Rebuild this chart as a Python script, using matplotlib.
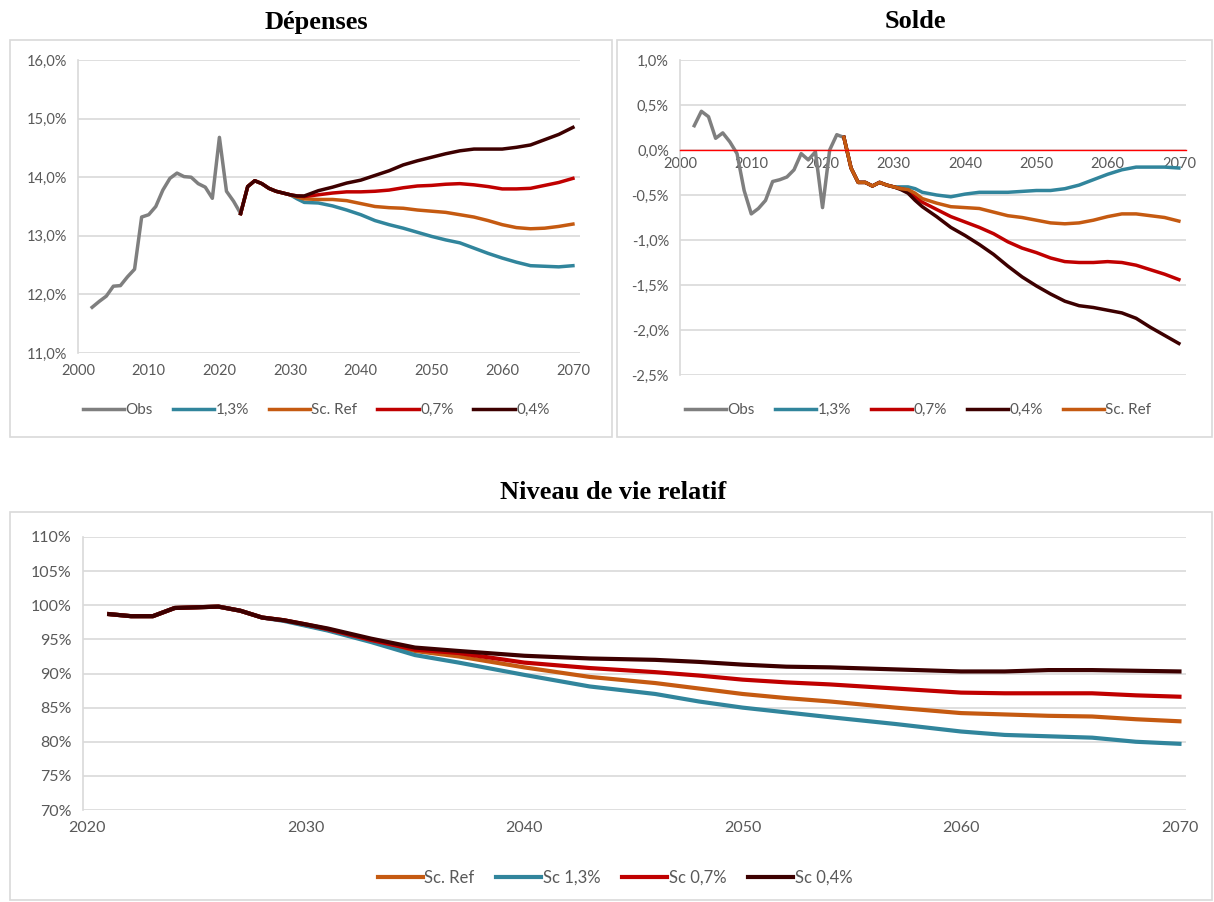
import matplotlib.pyplot as plt
from matplotlib.patches import Rectangle
from matplotlib.ticker import FuncFormatter

# ---- Dépenses (% du PIB)
dep_obs_years = list(range(2002, 2024))
dep_obs = [11.78, 11.88, 11.97, 12.14, 12.15, 12.30, 12.43, 13.32, 13.36, 13.50, 13.78, 13.98,
           14.07, 14.01, 14.00, 13.89, 13.83, 13.64, 14.68, 13.76, 13.59, 13.38]
dep_years = [2023, 2024, 2025, 2026, 2027, 2028, 2029, 2030, 2031, 2032, 2034, 2036, 2038, 2040,
             2042, 2044, 2046, 2048, 2050, 2052, 2054, 2056, 2058, 2060, 2062, 2064, 2066, 2068, 2070]
dep_start = [13.38, 13.84, 13.94, 13.89, 13.81, 13.76, 13.73, 13.70]
dep_13 = dep_start + [13.63, 13.57, 13.56, 13.51, 13.44, 13.36, 13.26, 13.19, 13.13, 13.06, 12.99,
                      12.93, 12.88, 12.79, 12.70, 12.62, 12.55, 12.49, 12.48, 12.47, 12.49]
dep_ref = dep_start + [13.66, 13.63, 13.62, 13.62, 13.60, 13.55, 13.50, 13.48, 13.47, 13.44, 13.42,
                       13.40, 13.36, 13.32, 13.26, 13.19, 13.14, 13.12, 13.13, 13.16, 13.20]
dep_07 = dep_start + [13.68, 13.67, 13.70, 13.73, 13.75, 13.75, 13.76, 13.78, 13.82, 13.85, 13.86,
                      13.88, 13.89, 13.87, 13.84, 13.80, 13.80, 13.81, 13.86, 13.91, 13.98]
dep_04 = dep_start + [13.68, 13.68, 13.77, 13.83, 13.90, 13.95, 14.03, 14.11, 14.21, 14.28, 14.34,
                      14.40, 14.45, 14.48, 14.48, 14.48, 14.51, 14.55, 14.64, 14.73, 14.85]

# ---- Solde (% du PIB)
sol_obs_years = list(range(2002, 2024))
sol_obs = [0.27, 0.43, 0.37, 0.13, 0.19, 0.09, -0.04, -0.45, -0.71, -0.65, -0.56, -0.35,
           -0.33, -0.30, -0.22, -0.04, -0.11, -0.02, -0.64, 0.00, 0.17, 0.14]
sol_years = [2023, 2024, 2025, 2026, 2027, 2028, 2029, 2030, 2031, 2032, 2033, 2034, 2036, 2038,
             2040, 2042, 2044, 2046, 2048, 2050, 2052, 2054, 2056, 2058, 2060, 2062, 2064, 2066,
             2068, 2070]
sol_start = [0.14, -0.20, -0.36, -0.36, -0.40, -0.36, -0.39, -0.41]
sol_13 = sol_start + [-0.41, -0.41, -0.43, -0.47, -0.50, -0.52, -0.49, -0.47, -0.47, -0.47, -0.46,
                      -0.45, -0.45, -0.43, -0.39, -0.33, -0.27, -0.22, -0.19, -0.19, -0.19, -0.20]
sol_07 = sol_start + [-0.43, -0.45, -0.52, -0.58, -0.66, -0.74, -0.80, -0.86, -0.93, -1.02, -1.09,
                      -1.14, -1.20, -1.24, -1.25, -1.25, -1.24, -1.25, -1.28, -1.33, -1.38, -1.44]
sol_04 = sol_start + [-0.44, -0.48, -0.56, -0.63, -0.74, -0.86, -0.95, -1.05, -1.16, -1.29, -1.41,
                      -1.51, -1.60, -1.68, -1.73, -1.75, -1.78, -1.81, -1.87, -1.97, -2.06, -2.15]
sol_ref = sol_start + [-0.43, -0.44, -0.48, -0.54, -0.59, -0.63, -0.64, -0.65, -0.69, -0.73, -0.75,
                       -0.78, -0.81, -0.82, -0.81, -0.78, -0.74, -0.71, -0.71, -0.73, -0.75, -0.79]

# ---- Niveau de vie relatif (%)
nv_years = [2021, 2022, 2023, 2024, 2025, 2026, 2027, 2028, 2029, 2030, 2031, 2033, 2035, 2037,
            2040, 2043, 2046, 2048, 2050, 2052, 2054, 2057, 2060, 2062, 2064, 2066, 2068, 2070]
nv_start = [98.7, 98.4, 98.4, 99.6, 99.7, 99.8, 99.2, 98.2]
nv_ref = nv_start + [97.8, 97.1, 96.4, 94.8, 93.3, 92.5, 90.9, 89.5, 88.6, 87.8, 87.0, 86.4, 85.9,
                     85.0, 84.2, 84.0, 83.8, 83.7, 83.3, 83.0]
nv_13 = nv_start + [97.7, 97.0, 96.3, 94.6, 92.7, 91.6, 89.8, 88.1, 87.0, 85.9, 85.0, 84.3, 83.6,
                    82.6, 81.5, 81.0, 80.8, 80.6, 80.0, 79.7]
nv_07 = nv_start + [97.8, 97.2, 96.5, 94.9, 93.5, 93.0, 91.6, 90.8, 90.2, 89.7, 89.1, 88.7, 88.4,
                    87.8, 87.2, 87.1, 87.1, 87.1, 86.8, 86.6]
nv_04 = nv_start + [97.8, 97.2, 96.6, 95.1, 93.8, 93.3, 92.6, 92.2, 92.0, 91.7, 91.3, 91.0, 90.9,
                    90.6, 90.3, 90.3, 90.5, 90.5, 90.4, 90.3]

GREY = '#7F7F7F'
TEAL = '#31859C'
ORANGE = '#C55A11'
RED = '#C00000'
DARK = '#3D0000'
TXT = '#595959'
GRID = '#D9D9D9'

W, H = 1214, 902
plt.rcParams['font.family'] = ['Lato', 'DejaVu Sans']
fig = plt.figure(figsize=(W / 100, H / 100), dpi=100)


def px_axes(left, top, right, bottom):
    return fig.add_axes([left / W, 1 - bottom / H, (right - left) / W, (bottom - top) / H])


def frame(left, top, right, bottom):
    fig.add_artist(Rectangle((left / W, 1 - bottom / H), (right - left) / W, (bottom - top) / H,
                             transform=fig.transFigure, fill=False, edgecolor=GRID, lw=1.2))


def style(ax, size=10.5):
    ax.grid(axis='y', color=GRID, lw=1.2)
    ax.set_axisbelow(True)
    for s in ['top', 'right', 'bottom']:
        ax.spines[s].set_visible(False)
    ax.spines['left'].set_color(GRID)
    ax.spines['left'].set_linewidth(1.2)
    ax.tick_params(length=0, labelsize=size, labelcolor=TXT, pad=8)


def pct(decimals):
    def f(v, pos):
        s = f'{v:.{decimals}f}%'.replace('.', ',')
        return s.replace('-0,0', '0,0')
    return FuncFormatter(f)


def legend(ax, x, y, size=11):
    h, l = ax.get_legend_handles_labels()
    fig.legend(h, l, loc='center', bbox_to_anchor=(x / W, 1 - y / H), ncol=len(h), frameon=False,
               fontsize=size, labelcolor=TXT, handlelength=2.7, handletextpad=0.1, columnspacing=1.3)


title_font = dict(family=['Liberation Serif', 'DejaVu Serif'], fontsize=19, fontweight='bold')

# ---------------- Dépenses
frame(10, 40, 612, 437)
ax1 = px_axes(78, 60, 580, 353)
style(ax1)
lw = 2.5
ax1.plot(dep_obs_years, dep_obs, color=GREY, lw=lw, label='Obs')
ax1.plot(dep_years, dep_13, color=TEAL, lw=lw, label='1,3%')
ax1.plot(dep_years, dep_ref, color=ORANGE, lw=lw, label='Sc. Ref')
ax1.plot(dep_years, dep_07, color=RED, lw=lw, label='0,7%')
ax1.plot(dep_years, dep_04, color=DARK, lw=lw, label='0,4%')
ax1.set_xlim(2000, 2071)
ax1.set_ylim(11, 16)
ax1.set_xticks(range(2000, 2071, 10))
ax1.set_yticks(range(11, 17))
ax1.yaxis.set_major_formatter(pct(1))
fig.text(316 / W, 1 - 22 / H, 'Dépenses', ha='center', va='center', **title_font)
legend(ax1, 316, 410)

# ---------------- Solde
frame(617, 40, 1212, 437)
ax2 = px_axes(680, 60, 1186, 375)
style(ax2)
ax2.spines['bottom'].set_visible(True)
ax2.spines['bottom'].set_position(('data', 0))
ax2.spines['bottom'].set_color('#FF0000')
ax2.spines['bottom'].set_linewidth(1.0)
ax2.plot(sol_obs_years, sol_obs, color=GREY, lw=lw, label='Obs')
ax2.plot(sol_years, sol_13, color=TEAL, lw=lw, label='1,3%')
ax2.plot(sol_years, sol_07, color=RED, lw=lw, label='0,7%')
ax2.plot(sol_years, sol_04, color=DARK, lw=lw, label='0,4%')
ax2.plot(sol_years, sol_ref, color=ORANGE, lw=lw, label='Sc. Ref')
ax2.set_xlim(2000, 2071)
ax2.set_ylim(-2.5, 1.0)
ax2.set_xticks(range(2000, 2071, 10))
ax2.set_yticks([1.0, 0.5, 0.0, -0.5, -1.0, -1.5, -2.0, -2.5])
ax2.yaxis.set_major_formatter(pct(1))
ax2.tick_params(axis='x', pad=5)
fig.text(915 / W, 1 - 22 / H, 'Solde', ha='center', va='center', **title_font)
legend(ax2, 918, 410)

# ---------------- Niveau de vie relatif
frame(10, 512, 1212, 900)
ax3 = px_axes(83, 537, 1186, 810)
style(ax3, size=11.5)
lw3 = 3.0
ax3.plot(nv_years, nv_ref, color=ORANGE, lw=lw3, label='Sc. Ref')
ax3.plot(nv_years, nv_13, color=TEAL, lw=lw3, label='Sc 1,3%')
ax3.plot(nv_years, nv_07, color=RED, lw=lw3, label='Sc 0,7%')
ax3.plot(nv_years, nv_04, color=DARK, lw=lw3, label='Sc 0,4%')
ax3.set_xlim(2019.8, 2070.3)
ax3.set_ylim(70, 110)
ax3.set_xticks(range(2020, 2071, 10))
ax3.set_yticks(range(70, 111, 5))
ax3.yaxis.set_major_formatter(pct(0))
fig.text(613 / W, 1 - 493 / H, 'Niveau de vie relatif', ha='center', va='center', **title_font)
legend(ax3, 615, 878, size=12)

fig.savefig('out.png', dpi=100)
